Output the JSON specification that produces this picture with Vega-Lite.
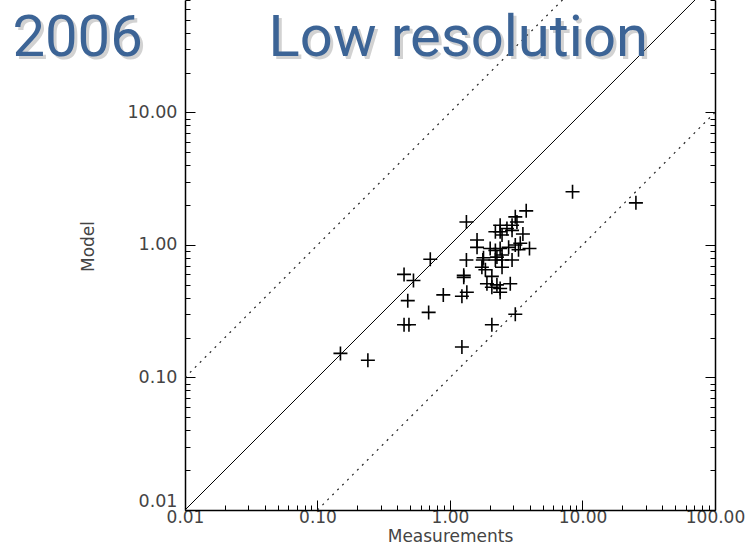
{
  "$schema": "https://vega.github.io/schema/vega-lite/v6.json",
  "autosize": {"type": "none"},
  "padding": {"left": 185, "top": 0, "right": 39, "bottom": 42},
  "width": 530,
  "height": 510,
  "background": "white",
  "config": {"view": {"stroke": null}, "axis": {"grid": false}},
  "datasets": {
    "points": [
      {"measurement": 8.41, "model": 2.52}, {"measurement": 3.76, "model": 1.81}, {"measurement": 1.33, "model": 1.49},
      {"measurement": 3.11, "model": 1.63}, {"measurement": 3.20, "model": 1.49}, {"measurement": 2.94, "model": 1.41},
      {"measurement": 2.69, "model": 1.33}, {"measurement": 2.39, "model": 1.41}, {"measurement": 2.39, "model": 1.26},
      {"measurement": 2.20, "model": 1.26}, {"measurement": 2.47, "model": 1.19}, {"measurement": 2.94, "model": 1.29},
      {"measurement": 3.55, "model": 1.21}, {"measurement": 1.60, "model": 1.09}, {"measurement": 1.60, "model": 0.96},
      {"measurement": 2.01, "model": 0.94}, {"measurement": 2.20, "model": 0.91}, {"measurement": 2.39, "model": 0.94},
      {"measurement": 2.77, "model": 0.96}, {"measurement": 3.11, "model": 1.00}, {"measurement": 3.39, "model": 1.03},
      {"measurement": 3.98, "model": 0.94}, {"measurement": 3.29, "model": 0.92}, {"measurement": 2.47, "model": 0.84},
      {"measurement": 2.26, "model": 0.81}, {"measurement": 1.79, "model": 0.80}, {"measurement": 2.94, "model": 0.77},
      {"measurement": 2.47, "model": 0.77}, {"measurement": 1.33, "model": 0.77}, {"measurement": 0.71, "model": 0.78},
      {"measurement": 1.74, "model": 0.68}, {"measurement": 2.47, "model": 0.68}, {"measurement": 1.85, "model": 0.65},
      {"measurement": 1.27, "model": 0.59}, {"measurement": 1.27, "model": 0.57}, {"measurement": 2.07, "model": 0.58},
      {"measurement": 0.45, "model": 0.60}, {"measurement": 0.53, "model": 0.54}, {"measurement": 1.90, "model": 0.51},
      {"measurement": 2.26, "model": 0.50}, {"measurement": 2.85, "model": 0.51}, {"measurement": 2.07, "model": 0.48},
      {"measurement": 2.39, "model": 0.47}, {"measurement": 2.39, "model": 0.44}, {"measurement": 1.34, "model": 0.44},
      {"measurement": 1.23, "model": 0.41}, {"measurement": 0.89, "model": 0.42}, {"measurement": 0.48, "model": 0.38},
      {"measurement": 0.69, "model": 0.31}, {"measurement": 3.11, "model": 0.30}, {"measurement": 0.45, "model": 0.25},
      {"measurement": 0.49, "model": 0.25}, {"measurement": 2.07, "model": 0.25}, {"measurement": 1.23, "model": 0.17},
      {"measurement": 0.149, "model": 0.152}, {"measurement": 0.24, "model": 0.135}, {"measurement": 25.3, "model": 2.08},
      {"measurement": 1.77, "model": 0.77}, {"measurement": 2.20, "model": 0.77}
    ],
    "ref": [
      {"line": "1:1", "measurement": 0.01, "model": 0.01},
      {"line": "1:1", "measurement": 100, "model": 100},
      {"line": "x10", "measurement": 0.01, "model": 0.1},
      {"line": "x10", "measurement": 10, "model": 100},
      {"line": "x0.1", "measurement": 0.1, "model": 0.01},
      {"line": "x0.1", "measurement": 100, "model": 10}
    ],
    "labels": [
      {"label": "2006", "measurement": 0.001546, "model": 26.6},
      {"label": "Low resolution", "measurement": 1.155, "model": 26.6}
    ]
  },
  "resolve": {"axis": {"x": "independent", "y": "independent"}},
  "layer": [
    {
      "data": {"name": "ref"},
      "transform": [{"filter": "datum.line === '1:1'"}],
      "mark": {"type": "line", "clip": true, "color": "black", "strokeWidth": 1},
      "encoding": {
        "x": {"field": "measurement", "type": "quantitative",
          "scale": {"type": "log", "domain": [0.01, 100], "nice": false},
          "axis": {"orient": "bottom", "values": [0.02,0.03,0.04,0.05,0.06,0.07,0.08,0.09,0.2,0.3,0.4,0.5,0.6,0.7,0.8,0.9,2,3,4,5,6,7,8,9,20,30,40,50,60,70,80,90],
            "tickSize": -5, "tickColor": "black", "labels": false, "domain": false, "title": null, "grid": false}},
        "y": {"field": "model", "type": "quantitative",
          "scale": {"type": "log", "domain": [0.01, 70.6], "nice": false},
          "axis": {"orient": "left", "values": [0.02,0.03,0.04,0.05,0.06,0.07,0.08,0.09,0.2,0.3,0.4,0.5,0.6,0.7,0.8,0.9,2,3,4,5,6,7,8,9,20,30,40,50,60,70],
            "tickSize": -5, "tickColor": "black", "labels": false, "domain": false, "title": null, "grid": false}}
      }
    },
    {
      "data": {"name": "ref"},
      "transform": [{"filter": "datum.line !== '1:1'"}],
      "mark": {"type": "line", "clip": true, "color": "#222222", "strokeWidth": 1.2, "strokeDash": [2, 5]},
      "encoding": {
        "detail": {"field": "line"},
        "x": {"field": "measurement", "type": "quantitative",
          "scale": {"type": "log", "domain": [0.01, 100], "nice": false}, "axis": null},
        "y": {"field": "model", "type": "quantitative",
          "scale": {"type": "log", "domain": [0.01, 70.6], "nice": false},
          "axis": {"orient": "right", "values": [0.01, 0.1, 1, 10], "tickSize": -10, "tickColor": "black",
            "labels": false, "domain": true, "domainColor": "black", "domainWidth": 1.5, "title": null, "grid": false}}
      }
    },
    {
      "data": {"name": "points"},
      "mark": {"type": "point", "shape": "M-1,0H1M0,-1V1", "size": 196, "filled": false, "stroke": "black", "strokeWidth": 1.6, "opacity": 1},
      "encoding": {
        "x": {"field": "measurement", "type": "quantitative",
          "scale": {"type": "log", "domain": [0.01, 100], "nice": false},
          "axis": {"orient": "bottom", "values": [0.01, 0.1, 1, 10, 100], "format": ".2f",
            "tickSize": -10, "tickColor": "black", "domainColor": "black", "domainWidth": 1.5,
            "labelFont": "DejaVu Sans", "labelFontSize": 17, "labelColor": "#444444", "labelPadding": 9,
            "labelFlush": false, "labelOverlap": false, "grid": false,
            "title": "Measurements", "titleFont": "DejaVu Sans", "titleFontSize": 17, "titleFontWeight": "normal",
            "titleColor": "#444444", "titleBaseline": "alphabetic", "titleY": 31}},
        "y": {"field": "model", "type": "quantitative",
          "scale": {"type": "log", "domain": [0.01, 70.6], "nice": false},
          "axis": {"orient": "left", "values": [0.01, 0.1, 1, 10], "format": ".2f",
            "tickSize": -10, "tickColor": "black", "domainColor": "black", "domainWidth": 1.5,
            "labelFont": "DejaVu Sans", "labelFontSize": 17.5, "labelColor": "#444444", "labelPadding": 18,
            "labelFlush": true, "labelOverlap": false, "grid": false,
            "title": "Model", "titleFont": "DejaVu Sans", "titleFontSize": 17, "titleFontWeight": "normal",
            "titleColor": "#444444", "titleAngle": -90, "titleAlign": "center", "titleBaseline": "alphabetic",
            "titleX": -92, "titleY": 246}}
      }
    },
    {
      "data": {"name": "labels"},
      "mark": {"type": "text", "font": "Roboto", "fontSize": 58, "align": "center", "baseline": "alphabetic",
        "fill": "#7f7f7f", "opacity": 0.35, "dx": 3, "dy": 3},
      "encoding": {
        "text": {"field": "label"},
        "x": {"field": "measurement", "type": "quantitative",
          "scale": {"type": "log", "domain": [0.01, 100], "nice": false}, "axis": null},
        "y": {"field": "model", "type": "quantitative",
          "scale": {"type": "log", "domain": [0.01, 70.6], "nice": false},
          "axis": {"orient": "right", "values": [0.02,0.03,0.04,0.05,0.06,0.07,0.08,0.09,0.2,0.3,0.4,0.5,0.6,0.7,0.8,0.9,2,3,4,5,6,7,8,9,20,30,40,50,60,70],
            "tickSize": -5, "tickColor": "black", "labels": false, "domain": false, "title": null, "grid": false}}
      }
    },
    {
      "data": {"name": "labels"},
      "mark": {"type": "text", "font": "Roboto", "fontSize": 58, "align": "center", "baseline": "alphabetic", "fill": "#3c6496"},
      "encoding": {
        "text": {"field": "label"},
        "x": {"field": "measurement", "type": "quantitative",
          "scale": {"type": "log", "domain": [0.01, 100], "nice": false}, "axis": null},
        "y": {"field": "model", "type": "quantitative",
          "scale": {"type": "log", "domain": [0.01, 70.6], "nice": false}, "axis": null}
      }
    }
  ]
}
